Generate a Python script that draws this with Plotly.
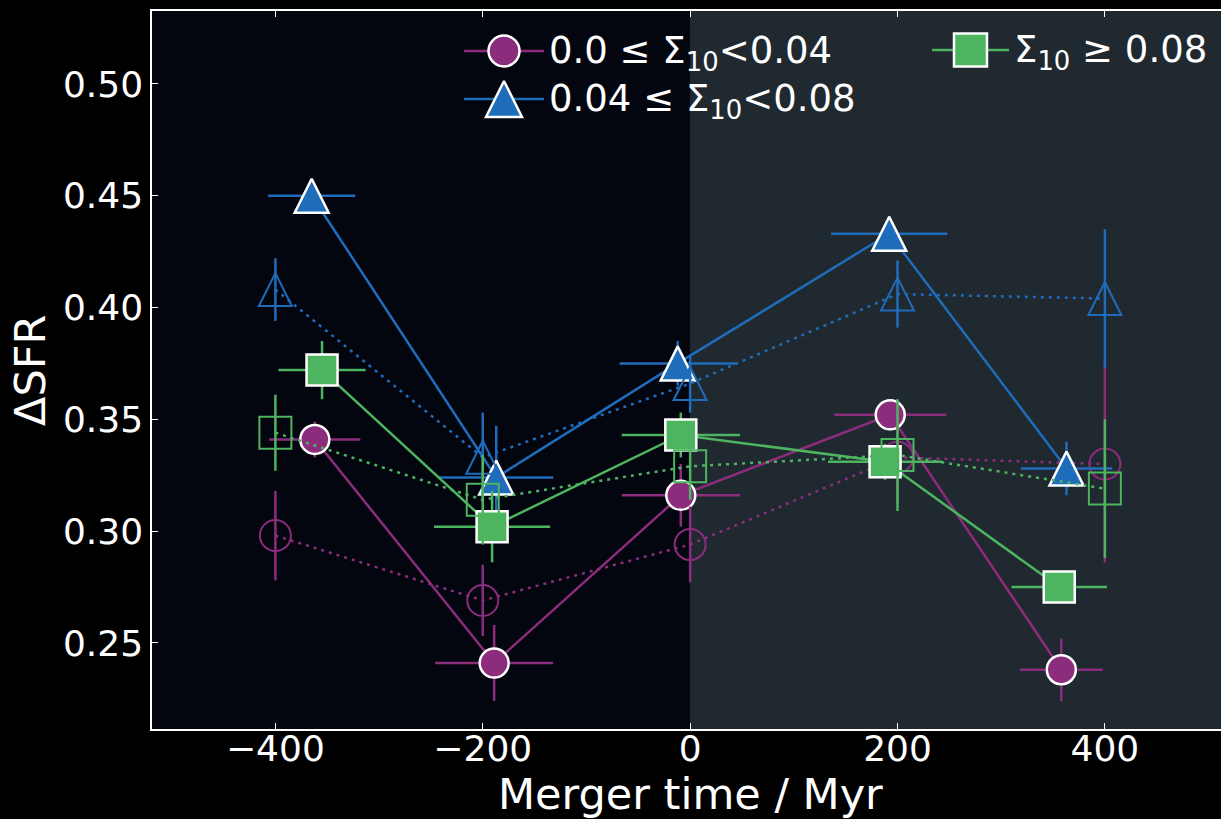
import plotly.graph_objects as go

# ---- data -------------------------------------------------------------
# Nominal merger-time bins (Myr)
t_bins = [-400, -200, 0, 200, 400]

# Mean merger time inside each bin and its spread, per density class
t_mean_low = [-362, -189, -9, 193, 358]
t_mean_mid = [-365, -187, -12, 192, 363]
t_mean_high = [-355, -191, -9, 188, 356]
t_spread_low = [44, 57, 57, 54, 40]
t_spread_mid = [42, 55, 56, 56, 44]
t_spread_high = [42, 56, 57, 55, 46]

# Delta SFR at the mean merger time (filled markers, solid lines)
dsfr_mean_low = [0.341, 0.241, 0.316, 0.352, 0.238]
dsfr_mean_mid = [0.450, 0.324, 0.375, 0.433, 0.328]
dsfr_mean_high = [0.372, 0.302, 0.343, 0.331, 0.275]
dsfr_mean_low_err = [0.008, 0.017, 0.014, 0.007, 0.014]
dsfr_mean_mid_err = [0.006, 0.023, 0.010, 0.008, 0.012]
dsfr_mean_high_err = [0.013, 0.016, 0.010, 0.008, 0.006]

# Delta SFR at the nominal bin centre (open markers, dotted lines)
dsfr_bin_low = [0.298, 0.269, 0.294, 0.333, 0.330]
dsfr_bin_mid = [0.408, 0.333, 0.366, 0.406, 0.404]
dsfr_bin_high = [0.344, 0.314, 0.329, 0.334, 0.319]
dsfr_bin_low_err = [0.020, 0.016, 0.017, 0.020, 0.044]
dsfr_bin_mid_err = [0.014, 0.020, 0.013, 0.015, 0.031]
dsfr_bin_high_err = [0.017, 0.020, 0.015, 0.025, 0.031]

labels = [
    "0.0 ≤ Σ<sub>10</sub>&lt;0.04",
    "0.04 ≤ Σ<sub>10</sub>&lt;0.08",
    "Σ<sub>10</sub> ≥ 0.08",
]
x_ticks = [-400, -200, 0, 200, 400]
y_ticks = [0.25, 0.30, 0.35, 0.40, 0.45, 0.50]

# ---- style ------------------------------------------------------------
W, H = 1221, 819
M_L, M_T, M_B = 152, 11, 90
X_RANGE = [-519, 512]
Y_RANGE = [0.2115, 0.5326]
FONT = "DejaVu Sans"

PURPLE = "#8c2c7d"
BLUE = "#1f6cbb"
GREEN = "#4db55f"
BG_PRE = "#03050f"
BG_POST = "#1f292f"

# the up-pointing triangle is an arrow-down glyph turned over, so that the
# standoff can lift it until its body is centred on the data point
SYM = {"low": "circle", "mid": "arrow-down", "high": "square"}
ANGLE = {"low": 0, "mid": 180, "high": 0}
SIZE_FILLED = {"low": 29, "mid": 34, "high": 31}
SIZE_OPEN = {"low": 31, "mid": 33, "high": 32}


def standoff(key, size):
    return size / 2 if SYM[key].startswith("arrow") else 0


series = [
    ("low", PURPLE, t_mean_low, t_spread_low, dsfr_mean_low, dsfr_mean_low_err,
     dsfr_bin_low, dsfr_bin_low_err),
    ("mid", BLUE, t_mean_mid, t_spread_mid, dsfr_mean_mid, dsfr_mean_mid_err,
     dsfr_bin_mid, dsfr_bin_mid_err),
    ("high", GREEN, t_mean_high, t_spread_high, dsfr_mean_high, dsfr_mean_high_err,
     dsfr_bin_high, dsfr_bin_high_err),
]

fig = go.Figure()

for key, col, tm, ts, ym, yme, yb, ybe in series:
    fig.add_trace(go.Scatter(
        x=tm, y=ym, mode="lines+markers",
        line=dict(color=col, width=2.5, backoff=0),
        marker=dict(symbol=SYM[key], size=SIZE_FILLED[key], color=col,
                    angle=ANGLE[key],
                    line=dict(color="white", width=2.5),
                    standoff=standoff(key, SIZE_FILLED[key])),
        error_x=dict(type="data", array=ts, color=col, thickness=2.5, width=0),
        error_y=dict(type="data", array=yme, color=col, thickness=2.5, width=0),
        showlegend=False,
    ))
    fig.add_trace(go.Scatter(
        x=t_bins, y=yb, mode="lines+markers",
        line=dict(color=col, width=2.5, dash="3px,5px", backoff=0),
        marker=dict(symbol=SYM[key] + "-open", size=SIZE_OPEN[key], color=col,
                    angle=ANGLE[key],
                    line=dict(color=col, width=2),
                    standoff=standoff(key, SIZE_OPEN[key])),
        error_y=dict(type="data", array=ybe, color=col, thickness=2.5, width=0),
        showlegend=False,
    ))

# ---- legend (drawn on an overlay in plot-fraction units) --------------
PW = W - M_L
PH = H - M_T - M_B


def fx(px):
    return (px - M_L) / PW


def fy(py):
    return (M_T + PH - py) / PH


legend_items = [
    # key, colour, label, line start px, line end px, centre y px
    ("low", PURPLE, labels[0], 464, 544, 51),
    ("mid", BLUE, labels[1], 464, 544, 99),
    ("high", GREEN, labels[2], 932, 1009, 50),
]
for key, col, lab, x0, x1, yc in legend_items:
    fig.add_trace(go.Scatter(
        x=[fx(x0), fx(x1)], y=[fy(yc), fy(yc)], mode="lines",
        line=dict(color=col, width=2.5), xaxis="x2", yaxis="y2",
        showlegend=False, hoverinfo="skip", cliponaxis=False,
    ))
    size = SIZE_FILLED[key] + 2
    fig.add_trace(go.Scatter(
        x=[fx((x0 + x1) / 2)], y=[fy(yc)], mode="markers",
        marker=dict(symbol=SYM[key], size=size, color=col, angle=ANGLE[key],
                    line=dict(color="white", width=2.5),
                    standoff=standoff(key, size)),
        xaxis="x2", yaxis="y2", showlegend=False, hoverinfo="skip",
        cliponaxis=False,
    ))
    fig.add_annotation(
        xref="paper", yref="paper", x=fx(x1 + 3), y=fy(yc + 2),
        xanchor="left", yanchor="middle", text=lab, showarrow=False,
        font=dict(family=FONT, size=37, color="white"),
    )

# axis titles
fig.add_annotation(
    xref="x", yref="paper", x=0, y=fy(794), xanchor="center", yanchor="middle",
    text="Merger time / Myr", showarrow=False, borderpad=0,
    font=dict(family=FONT, size=43, color="white"),
)
fig.add_annotation(
    xref="paper", yref="paper", x=fx(30), y=fy(371), xanchor="center",
    yanchor="middle", text="ΔSFR", textangle=-90, showarrow=False,
    font=dict(family=FONT, size=43, color="white"),
)

# pre- and post-merger shading
fig.add_shape(type="rect", xref="x", yref="paper", x0=X_RANGE[0], x1=0,
              y0=0, y1=1, fillcolor=BG_PRE, line_width=0, layer="below")
fig.add_shape(type="rect", xref="x", yref="paper", x0=0, x1=X_RANGE[1],
              y0=0, y1=1, fillcolor=BG_POST, line_width=0, layer="below")

axis_common = dict(
    showgrid=False, zeroline=False, showline=True, linecolor="white",
    linewidth=1.5, ticks="inside", ticklen=6, tickwidth=1, tickcolor="white",
    tickfont=dict(family=FONT, size=36, color="white"),
)
fig.update_layout(
    width=W, height=H,
    margin=dict(l=M_L, r=0, t=M_T, b=M_B, pad=0),
    paper_bgcolor="black", plot_bgcolor=BG_POST,
    font=dict(family=FONT, color="white"),
    xaxis=dict(range=X_RANGE, tickvals=x_ticks, mirror="ticks",
               ticklabelstandoff=-13, **axis_common),
    yaxis=dict(range=Y_RANGE, tickvals=y_ticks, tickformat=".2f",
               **axis_common),
    xaxis2=dict(range=[0, 1], overlaying="x", visible=False, fixedrange=True),
    yaxis2=dict(range=[0, 1], overlaying="y", visible=False, fixedrange=True),
    showlegend=False,
)

fig.write_html("out.html")
